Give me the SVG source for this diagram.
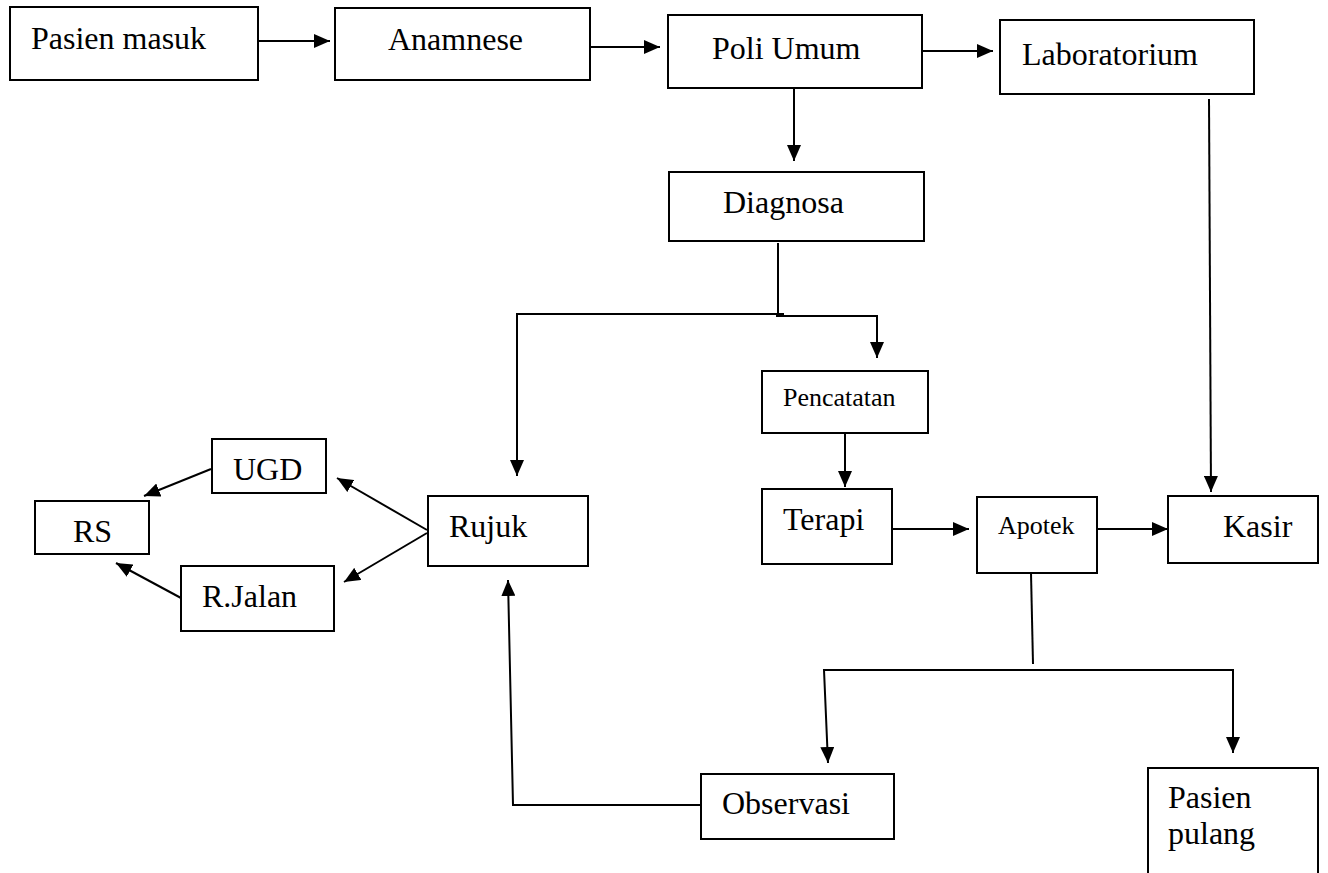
<svg xmlns="http://www.w3.org/2000/svg" width="1328" height="873" viewBox="0 0 1328 873">
  <style>
    .box { fill: #ffffff; stroke: #000000; stroke-width: 2; }
    .lbl { font-family: "Liberation Serif", "Times New Roman", serif; font-size: 32px; fill: #000000; }
    .sm { font-size: 26px; }
    .wire { fill: none; stroke: #000000; stroke-width: 2; }
    .arr { marker-end: url(#head); }
  </style>
  <defs>
    <marker id="head" markerUnits="userSpaceOnUse" markerWidth="16" markerHeight="14" refX="16" refY="7" orient="auto">
      <path d="M0,0 L16,7 L0,14 Z" fill="#000000"/>
    </marker>
  </defs>
  <rect width="1328" height="873" fill="#ffffff"/>

  <g id="connectors">
    <line class="wire arr" x1="259" y1="41" x2="330" y2="41"/>
    <line class="wire arr" x1="590" y1="47" x2="660" y2="47"/>
    <line class="wire arr" x1="923" y1="51" x2="993" y2="51"/>
    <line class="wire arr" x1="794" y1="88" x2="794" y2="161"/>
    <line class="wire arr" x1="1209" y1="99" x2="1211" y2="492"/>
    <!-- Diagnosa split -->
    <line class="wire" x1="778" y1="243" x2="778" y2="314"/>
    <path class="wire arr" d="M784,314 H517 V476"/>
    <path class="wire arr" d="M776,316 H877 V358"/>
    <line class="wire arr" x1="845" y1="433" x2="845" y2="487"/>
    <line class="wire arr" x1="892" y1="529" x2="969" y2="529"/>
    <line class="wire arr" x1="1097" y1="529" x2="1168" y2="529"/>
    <!-- Rujuk branches -->
    <line class="wire arr" x1="427" y1="530" x2="337" y2="478"/>
    <line class="wire arr" x1="427" y1="533" x2="344" y2="582"/>
    <line class="wire arr" x1="211" y1="469" x2="144" y2="496"/>
    <line class="wire arr" x1="181" y1="598" x2="116" y2="563"/>
    <!-- Apotek split -->
    <line class="wire" x1="1031" y1="573" x2="1033" y2="664"/>
    <path class="wire arr" d="M1033,670 H824 L828,763"/>
    <path class="wire arr" d="M1033,670 H1233 V753"/>
    <!-- Observasi back to Rujuk -->
    <path class="wire arr" d="M700,805 H513 L508,580"/>
  </g>

  <g id="pasien-masuk">
    <rect class="box" x="10" y="7" width="248" height="73"/>
    <text class="lbl" x="31" y="49">Pasien masuk</text>
  </g>
  <g id="anamnese">
    <rect class="box" x="335" y="8" width="255" height="72"/>
    <text class="lbl" x="388" y="50">Anamnese</text>
  </g>
  <g id="poli-umum">
    <rect class="box" x="668" y="15" width="254" height="73"/>
    <text class="lbl" x="712" y="59">Poli Umum</text>
  </g>
  <g id="laboratorium">
    <rect class="box" x="1000" y="20" width="254" height="74"/>
    <text class="lbl" x="1022" y="65">Laboratorium</text>
  </g>
  <g id="diagnosa">
    <rect class="box" x="669" y="172" width="255" height="69"/>
    <text class="lbl" x="723" y="213">Diagnosa</text>
  </g>
  <g id="pencatatan">
    <rect class="box" x="762" y="371" width="166" height="62"/>
    <text class="lbl sm" x="783" y="406">Pencatatan</text>
  </g>
  <g id="ugd">
    <rect class="box" x="212" y="439" width="114" height="54"/>
    <text class="lbl" x="233" y="480">UGD</text>
  </g>
  <g id="rs">
    <rect class="box" x="35" y="501" width="114" height="53"/>
    <text class="lbl" x="73" y="542">RS</text>
  </g>
  <g id="r-jalan">
    <rect class="box" x="181" y="566" width="153" height="65"/>
    <text class="lbl" x="202" y="607">R.Jalan</text>
  </g>
  <g id="rujuk">
    <rect class="box" x="428" y="496" width="160" height="70"/>
    <text class="lbl" x="449" y="537">Rujuk</text>
  </g>
  <g id="terapi">
    <rect class="box" x="762" y="489" width="130" height="75"/>
    <text class="lbl" x="783" y="530">Terapi</text>
  </g>
  <g id="apotek">
    <rect class="box" x="977" y="497" width="120" height="76"/>
    <text class="lbl sm" x="998" y="534">Apotek</text>
  </g>
  <g id="kasir">
    <rect class="box" x="1168" y="496" width="150" height="67"/>
    <text class="lbl" x="1223" y="537">Kasir</text>
  </g>
  <g id="observasi">
    <rect class="box" x="701" y="774" width="193" height="65"/>
    <text class="lbl" x="722" y="814">Observasi</text>
  </g>
  <g id="pasien-pulang">
    <rect class="box" x="1148" y="768" width="170" height="120"/>
    <text class="lbl" x="1168" y="808">Pasien</text>
    <text class="lbl" x="1168" y="844">pulang</text>
  </g>
</svg>
